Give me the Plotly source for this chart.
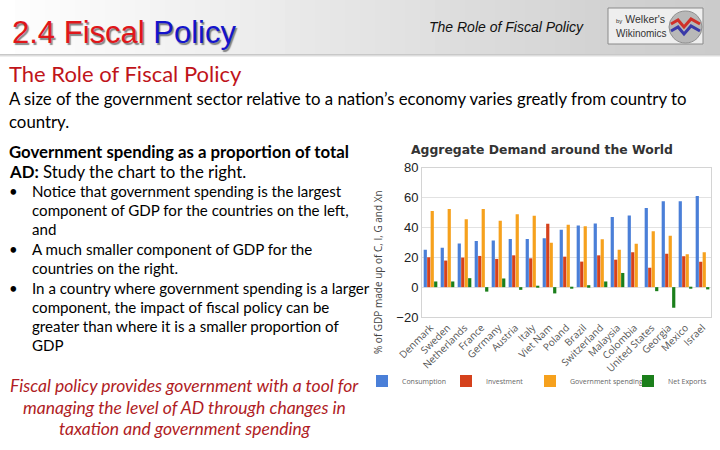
import plotly.graph_objects as go

countries = ["Denmark", "Sweden", "Netherlands", "France", "Germany", "Austria", "Italy",
             "Viet Nam", "Poland", "Brazil", "Switzerland", "Malaysia", "Colombia",
             "United States", "Georgia", "Mexico", "Israel"]
consumption = [25, 26.4, 29.3, 30.9, 31.3, 32.2, 32.2, 32.7, 38.4, 41.3, 42.7, 47, 48, 53, 57.5, 57.5, 61]
investment = [20, 17.8, 19.8, 20.9, 18.9, 21.3, 19.3, 42.4, 20.4, 17.1, 21.3, 18.4, 23.3, 13, 22.4, 20.7, 17]
government = [51, 52.4, 45.5, 52.4, 44.4, 48.9, 47.8, 29.8, 41.8, 40.7, 32, 25, 29, 37.5, 34.4, 22, 23.3]
net_exports = [3.8, 3.8, 6, -3, 5.8, -1.8, 0.4, -4.2, -1, 1.3, 3.8, 9.5, 0, -2.7, -13.8, -0.5, -1.5]

series_names = ["Consumption", "Investment", "Government spending", "Net Exports"]
series_colors = ["#4a7fd8", "#d5411c", "#f6a11d", "#1b7f1b"]
y_ticks = [-20, 0, 20, 40, 60, 80]

W, H = 720, 450
def px(x):
    return x / W
def py(y):
    return 1 - y / H

legend_ids = ["legend", "legend2", "legend3", "legend4"]
legend_x = [362, 446, 530, 628]

fig = go.Figure()
for name, vals, col, lid in zip(series_names, [consumption, investment, government, net_exports],
                                series_colors, legend_ids):
    fig.add_trace(go.Bar(x=countries, y=vals, name=name, legend=lid,
                         marker=dict(color=col, line=dict(width=0))))

shapes = []
# header gradient
n = 48
for i in range(n):
    t = i / (n - 1)
    g = int(255 - t * 52)
    shapes.append(dict(type="rect", xref="paper", yref="paper",
                       x0=px(i * W / n), x1=px((i + 1) * W / n + 0.5), y0=py(54), y1=py(0),
                       fillcolor=f"rgb({g},{g},{g})", line=dict(width=0), layer="below"))
for j, c in enumerate(["#c8c8c8", "#dcdcdc", "#eeeeee"]):
    shapes.append(dict(type="rect", xref="paper", yref="paper", x0=0, x1=1,
                       y0=py(55 + j), y1=py(54 + j), fillcolor=c, line=dict(width=0), layer="below"))
# logo box
shapes.append(dict(type="rect", xref="paper", yref="paper", x0=px(608), x1=px(703), y0=py(44), y1=py(8),
                   fillcolor="#eeeeee", line=dict(color="#8a8a8a", width=1), layer="below"))
shapes.append(dict(type="circle", xref="paper", yref="paper", x0=px(669), x1=px(702), y0=py(43), y1=py(11),
                   fillcolor="#b8b8b8", line=dict(color="#909090", width=1), layer="below"))
shapes.append(dict(type="path", xref="paper", yref="paper",
                   path=f"M {px(671)},{py(24)} L {px(678)},{py(20)} L {px(684)},{py(27)} L {px(691)},{py(19)} L {px(700)},{py(24)}",
                   line=dict(color="#d0302a", width=3), layer="above"))
shapes.append(dict(type="path", xref="paper", yref="paper",
                   path=f"M {px(671)},{py(31)} L {px(678)},{py(27)} L {px(684)},{py(34)} L {px(691)},{py(26)} L {px(700)},{py(31)}",
                   line=dict(color="#3a3aa8", width=3), layer="above"))

ann = []
def text(x, y, s, size, color="#000", family="Lato", anchor="left", shadow=None, **kw):
    f = dict(size=size, color=color, family=family)
    if shadow:
        f["shadow"] = shadow
    ann.append(dict(x=px(x), y=py(y), xref="paper", yref="paper", text=s, showarrow=False,
                    xanchor=anchor, yanchor="middle", font=f, **kw))

# header
title_html = "<span style='color:#e0161a'>2.4 Fiscal</span> <span style='color:#1414cc'>Policy</span>"
text(10, 32, title_html, 31, family="Liberation Sans, Arial", shadow="1.5px 1.5px 1px rgba(40,40,40,0.55)")
text(427, 27, "<i>The Role of Fiscal Policy</i>", 14, color="#111", family="Liberation Sans, Arial")
text(614, 19, "<span style='font-size:6px'>by</span> Welker's", 10.5, color="#333", family="Liberation Sans, Arial")
text(614, 33, "Wikinomics", 10, color="#333", family="Liberation Sans, Arial")

# slide text
text(7, 73, "The Role of Fiscal Policy", 22, color="#c0141a")
text(7, 99, "A size of the government sector relative to a nation\u2019s economy varies greatly from country to", 16.8)
text(7, 121, "country.", 16.8)
text(7, 151, "<b>Government spending as a proportion of total</b>", 16.8)
text(7, 171, "<b>AD:</b> Study the chart to the right.", 16.8)
bullet_lines = [
    (191, "Notice that government spending is the largest", True),
    (210, "component of GDP for the countries on the left,", False),
    (229, "and", False),
    (249, "A much smaller component of GDP for the", True),
    (268, "countries on the right.", False),
    (288, "In a country where government spending is a larger", True),
    (307, "component, the impact of fiscal policy can be", False),
    (326, "greater than where it is a smaller proportion of", False),
    (345, "GDP", False),
]
for y, s, b in bullet_lines:
    if b:
        text(7, y, "\u2022", 14.9)
    text(30, y, s, 15.1)
for y, s in [(385, "Fiscal policy provides government with a tool for"),
             (407, "managing the level of AD through changes in"),
             (428, "taxation and government spending")]:
    text(185, y, "<i>" + s + "</i>", 17.5, color="#b01c24", anchor="center")

# chart texts
text(542, 149, "<b>Aggregate Demand around the World</b>", 12.4, color="#333", family="DejaVu Sans", anchor="center")
ann.append(dict(x=px(378), y=py(272), xref="paper", yref="paper", text="% of GDP made up of C, I, G and Xn",
                showarrow=False, textangle=-90, xanchor="center", yanchor="middle",
                font=dict(size=10, color="#444", family="Open Sans")))

legend_common = dict(orientation="h", xanchor="left", yanchor="middle",
                     font=dict(size=7, color="#666", family="Open Sans"),
                     itemwidth=30, bgcolor="rgba(0,0,0,0)")
layout_legends = {}
for lid, lx in zip(legend_ids, legend_x):
    layout_legends[lid] = dict(x=px(lx), y=py(381), **legend_common)

fig.update_layout(
    width=W, height=H, margin=dict(l=0, r=0, t=0, b=0, autoexpand=False),
    paper_bgcolor="white", plot_bgcolor="white",
    barmode="group", bargap=0.18, bargroupgap=0.08,
    shapes=shapes, annotations=ann,
    showlegend=True,
    xaxis=dict(domain=[px(422), px(711)], tickangle=-45, tickfont=dict(size=10, color="#555", family="Open Sans"),
               showline=True, linecolor="#d4d4d4", mirror=True, ticks="", showgrid=False, automargin=False),
    yaxis=dict(domain=[py(317), py(167.7)], range=[-20, 80], tickvals=y_ticks,
               tickfont=dict(size=13, color="#222", family="Liberation Sans, Arial"),
               showgrid=True, gridcolor="#e2e2e2", zeroline=True, zerolinecolor="#e2e2e2", zerolinewidth=1,
               showline=True, linecolor="#d4d4d4", mirror=True, ticks="", automargin=False),
    **layout_legends,
)

fig.write_html("out.html", config={"displayModeBar": False},
               post_script="document.body.style.margin='0px';")
